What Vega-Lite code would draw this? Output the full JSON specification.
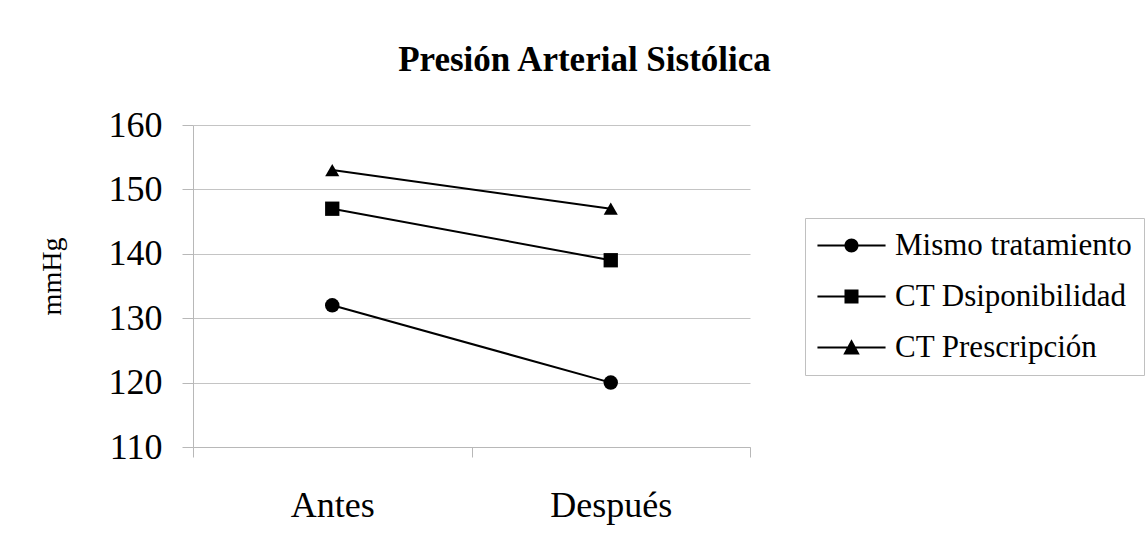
{
  "$schema": "https://vega.github.io/schema/vega-lite/v6.json",
  "autosize": {"type": "none"},
  "width": 557,
  "height": 322,
  "padding": {"left": 193, "top": 125, "right": 397, "bottom": 91},
  "background": "white",
  "title": {
    "text": "Presión Arterial Sistólica",
    "font": "Liberation Serif",
    "fontSize": 35,
    "fontWeight": "bold",
    "color": "black",
    "baseline": "alphabetic",
    "anchor": "middle",
    "frame": "group",
    "dx": 113,
    "offset": 1
  },
  "data": {
    "values": [
      {"momento": "Antes", "grupo": "Mismo tratamiento", "mmHg": 132},
      {"momento": "Después", "grupo": "Mismo tratamiento", "mmHg": 120},
      {"momento": "Antes", "grupo": "CT Dsiponibilidad", "mmHg": 147},
      {"momento": "Después", "grupo": "CT Dsiponibilidad", "mmHg": 139},
      {"momento": "Antes", "grupo": "CT Prescripción", "mmHg": 153},
      {"momento": "Después", "grupo": "CT Prescripción", "mmHg": 147}
    ]
  },
  "encoding": {
    "x": {
      "field": "momento",
      "type": "nominal",
      "bandPosition": 0.5,
      "sort": ["Antes", "Después"],
      "scale": {"type": "band", "paddingInner": 0, "paddingOuter": 0},
      "axis": {
        "title": null,
        "labelAngle": 0,
        "labelFont": "Liberation Serif",
        "labelFontSize": 36,
        "labelColor": "black",
        "labelPadding": 31,
        "tickBand": "extent",
        "tickSize": 10,
        "tickColor": "#b8b8b8",
        "domainColor": "#b8b8b8",
        "grid": false
      }
    },
    "y": {
      "field": "mmHg",
      "type": "quantitative",
      "scale": {"domain": [110, 160], "nice": false, "zero": false},
      "axis": {
        "title": "mmHg",
        "titleFont": "Liberation Serif",
        "titleFontSize": 28,
        "titleFontWeight": "normal",
        "titleColor": "black",
        "titlePadding": 42,
        "titleY": 151,
        "values": [110, 120, 130, 140, 150, 160],
        "labelFont": "Liberation Serif",
        "labelFontSize": 36,
        "labelColor": "black",
        "labelPadding": 20,
        "tickSize": 11,
        "tickColor": "#b8b8b8",
        "domainColor": "#b8b8b8",
        "grid": true,
        "gridColor": "#c4c4c4",
        "gridWidth": 1
      }
    }
  },
  "layer": [
    {
      "mark": {"type": "line", "color": "black", "strokeWidth": 2},
      "encoding": {"detail": {"field": "grupo", "type": "nominal"}}
    },
    {
      "mark": {"type": "point", "filled": true, "color": "black", "opacity": 1},
      "encoding": {
        "shape": {
          "field": "grupo",
          "type": "nominal",
          "scale": {
            "domain": ["Mismo tratamiento", "CT Dsiponibilidad", "CT Prescripción"],
            "range": ["circle", "square", "triangle-up"]
          },
          "legend": null
        },
        "size": {
          "field": "grupo",
          "type": "nominal",
          "scale": {
            "domain": ["Mismo tratamiento", "CT Dsiponibilidad", "CT Prescripción"],
            "range": [210, 200, 270]
          },
          "legend": null
        }
      }
    },
    {
      "mark": {"type": "point", "filled": true, "color": "black", "opacity": 0},
      "encoding": {
        "shape": {
          "field": "grupo",
          "type": "nominal",
          "scale": {
            "domain": ["Mismo tratamiento", "CT Dsiponibilidad", "CT Prescripción"],
            "range": [
              "M-2.27,-0.067H2.27V0.067H-2.27ZM0.467,0A0.467,0.467,0,1,1,-0.467,0A0.467,0.467,0,1,1,0.467,0Z",
              "M-2.27,-0.067H2.27V0.067H-2.27ZM-0.467,-0.467H0.467V0.467H-0.467Z",
              "M-2.27,-0.067H2.27V0.067H-2.27ZM0,-0.55L0.55,0.47L-0.55,0.47Z"
            ]
          },
          "legend": {
            "title": null,
            "orient": "none",
            "legendX": 612,
            "legendY": 93,
            "labelFont": "Liberation Serif",
            "labelFontSize": 31,
            "labelColor": "black",
            "labelLimit": 400,
            "symbolSize": 900,
            "symbolFillColor": "black",
            "symbolStrokeColor": "black",
            "symbolStrokeWidth": 0,
            "symbolOpacity": 1,
            "symbolOffset": 19,
            "labelOffset": 28,
            "padding": 12,
            "rowPadding": 19,
            "strokeColor": "#c0c0c0",
            "fillColor": "white",
            "encode": {
              "symbols": {
                "update": {
                  "fill": {"value": "black"},
                  "opacity": {"value": 1}
                }
              }
            }
          }
        }
      }
    }
  ],
  "resolve": {"scale": {"shape": "independent"}},
  "config": {
    "view": {"stroke": null},
    "font": "Liberation Serif"
  }
}
